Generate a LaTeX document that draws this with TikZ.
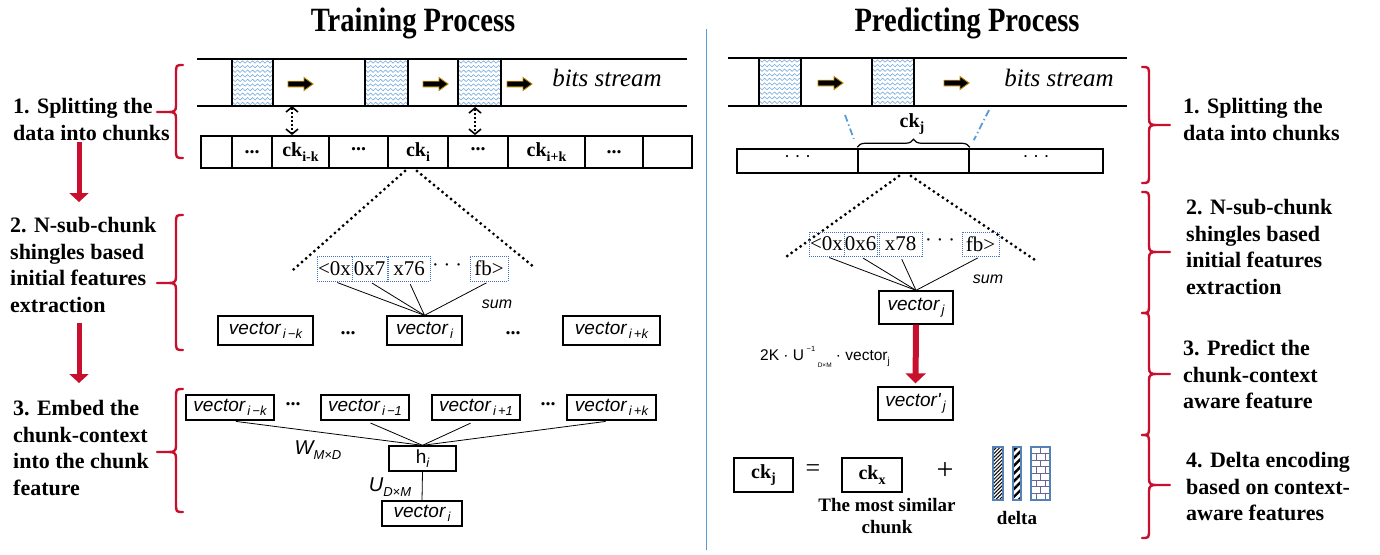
\documentclass[tikz,border=0pt]{standalone}
\usepackage{fontspec}
\setmainfont{Liberation Serif}
\newfontfamily\sansf{Liberation Sans}
\newfontfamily\titlef{Liberation Serif}[FakeStretch=0.84]
\usetikzlibrary{arrows.meta,decorations.pathmorphing,decorations.pathreplacing,calc,patterns.meta}
\definecolor{bracered}{RGB}{200,16,46}
\definecolor{divblue}{RGB}{91,155,213}
\definecolor{waveblue}{RGB}{120,172,222}
\definecolor{dotblue}{RGB}{68,114,196}
\definecolor{arrgold}{RGB}{184,134,11}
\definecolor{deltablue}{RGB}{84,130,180}
\newcommand\lsub[1]{\raisebox{-0.45ex}{\fontsize{13}{13}\selectfont #1}}
\newcommand\lsubB[1]{\raisebox{-0.5ex}{\fontsize{14}{14}\selectfont\bfseries #1}}
\newcommand\BraceL[6]{\draw[redbrace] (#1,#3) .. controls (#2,#3) .. (#2,#3+9) -- (#2,#5-6) .. controls (#2,#5-1) and (#2-2,#5) .. (#2-7,#5) -- (#6,#5) -- (#2-7,#5) .. controls (#2-2,#5) and (#2,#5+1) .. (#2,#5+6) -- (#2,#4-9) .. controls (#2,#4) .. (#1,#4);}
\newcommand\BraceR[6]{\draw[redbrace] (#1,#3) .. controls (#2,#3) .. (#2,#3+9) -- (#2,#5-6) .. controls (#2,#5-1) and (#2+2,#5) .. (#2+7,#5) -- (#6,#5) -- (#2+7,#5) .. controls (#2+2,#5) and (#2,#5+1) .. (#2,#5+6) -- (#2,#4-9) .. controls (#2,#4) .. (#1,#4);}
\newcommand\WaveBox[4]{%
\begin{scope}
\clip (#1,#2) rectangle (#3,#4);
\foreach \k in {0,...,9} \draw[wavy] (#1-6,#2+3+4.6*\k) -- (#3+6,#2+3+4.6*\k);
\end{scope}
\draw[line width=1.6pt] (#1,#2) rectangle (#3,#4);}
\newcommand\GoldArrow[2]{\filldraw[fill=black,draw=arrgold,line width=0.9pt,line join=miter] (#1,#2-2.8) -- (#1+16,#2-2.8) -- (#1+16,#2-6.5) -- (#1+25,#2) -- (#1+16,#2+6.5) -- (#1+16,#2+2.8) -- (#1,#2+2.8) -- cycle;}
\tikzset{
 redbrace/.style={draw=bracered, line width=2.4pt, line join=round, line cap=round},
 redarrow/.style={draw=bracered, line width=5pt, -{Triangle[width=19pt,length=9pt]}},
 streamline/.style={line width=2.2pt},
 wavy/.style={draw=waveblue, line width=0.6pt, decorate, decoration={snake, segment length=5pt, amplitude=1.2pt}},
 cellL/.style={draw, line width=1.8pt, minimum height=32pt, inner sep=0pt, font=\bfseries\fontsize{20}{20}\selectfont},
 cellR/.style={draw, line width=1.5pt, minimum height=24pt, inner sep=0pt, font=\fontsize{18}{18}\selectfont},
 dotarrow/.style={line width=1.6pt, dash pattern=on 2pt off 2pt, {Straight Barb[length=5pt,width=12pt]}-{Straight Barb[length=5pt,width=12pt]}},
 dotline/.style={line width=3.2pt, dash pattern=on 0pt off 5.5pt, line cap=round},
 subbox/.style={draw=dotblue, line width=1pt, dash pattern=on 1pt off 1pt, minimum height=25pt, inner sep=0.5pt, font=\fontsize{21}{21}\selectfont},
 vbox/.style={draw, line width=1.3pt, minimum height=29pt, inner sep=1pt, font=\sansf\itshape\fontsize{19}{19}\selectfont},
 thinline/.style={line width=0.8pt},
 dotstext/.style={font=\bfseries\fontsize{20}{20}\selectfont},
 lab/.style={font=\bfseries\fontsize{22}{26.6}\selectfont, align=left, inner sep=0pt, anchor=north west},
 sumtext/.style={font=\sansf\itshape\fontsize{16}{16}\selectfont},
 bstream/.style={font=\itshape\fontsize{25}{25}\selectfont},
 ttl/.style={font=\titlef\bfseries\fontsize{34}{34}\selectfont, anchor=base},
 ckbox/.style={draw, line width=2.5pt, minimum width=59pt, minimum height=34pt, inner sep=0pt, font=\bfseries\fontsize{20}{20}\selectfont},
 dashdotblue/.style={draw=divblue, line width=1.8pt, dash pattern=on 7pt off 3pt on 1.5pt off 3pt},
}
\begin{document}
\begin{tikzpicture}[x=1pt,y=-1pt]
\useasboundingbox (0,0) rectangle (1380,554);
% titles and divider
\node[ttl] (t1) at (413,31) {Training Process};
\node[ttl] (t2) at (967,31) {Predicting Process};
\draw[divblue, line width=1pt] (706,29) -- (706,550);

% ===== LEFT LABELS =====
\node[lab] (L1) at (13,98) {1. Splitting the\\data into chunks};
\node[lab] (L2) at (10,217) {2. N-sub-chunk\\shingles based\\initial features\\extraction};
\node[lab] (L3) at (13,400) {3. Embed the\\chunk-context\\into the chunk\\feature};
\coordinate (ra1s) at (79,142); \coordinate (ra1e) at (79,202);
\coordinate (ra2s) at (79,323); \coordinate (ra2e) at (79,383);
\draw[redarrow] (ra1s) -- (ra1e);
\draw[redarrow] (ra2s) -- (ra2e);
\BraceL{183}{176}{65}{158}{112}{157}
\BraceL{183}{176}{215}{350}{283}{157}
\BraceL{183}{176}{389}{512}{452}{157}

% ===== LEFT STREAM =====
\WaveBox{232}{59}{273}{106}
\WaveBox{365}{59}{408}{106}
\WaveBox{458}{59}{501}{106}
\draw[streamline] (197,59) -- (687,59);
\draw[streamline] (197,106) -- (687,106);
\GoldArrow{288}{84}
\GoldArrow{423}{84}
\GoldArrow{507}{84}
\node[bstream] (bs1) at (607,78) {bits stream};

\node[cellL, minimum width=31pt] (c1) at (216.5,152) {};
\node[cellL, minimum width=40pt] (c2) at (252,152) {...};
\node[cellL, minimum width=57pt] (c3) at (300.5,152) {ck\lsubB{i-k}};
\node[cellL, minimum width=59pt] (c4) at (358.5,152) {\raisebox{5pt}{...}};
\node[cellL, minimum width=60pt] (c5) at (418,152) {ck\lsubB{i}};
\node[cellL, minimum width=60pt] (c6) at (478,152) {\raisebox{5pt}{...}};
\node[cellL, minimum width=77pt] (c7) at (546.5,152) {ck\lsubB{i+k}};
\node[cellL, minimum width=58pt] (c8) at (614,152) {...};
\node[cellL, minimum width=49pt] (c9) at (667.5,152) {};

\coordinate (s1) at (292,106);
\coordinate (s2) at (475,107);
\draw[dotarrow] (s1) -- (s1 |- c3.north);
\draw[dotarrow] (s2) -- (s2 |- c6.north);

\coordinate (tl1) at (405,171); \coordinate (tl2) at (293,270);
\coordinate (tr1) at (417,171); \coordinate (tr2) at (535,268);
\draw[dotline] (tl1) -- (tl2);
\draw[dotline] (tr1) -- (tr2);

\node[subbox, minimum width=35pt] (a1) at (334.5,268.5) {<0x};
\node[subbox, minimum width=35pt] (a2) at (369.5,268.5) {0x7};
\node[subbox, minimum width=42pt] (a3) at (409,268.5) {x76};
\node[font=\fontsize{20}{20}\selectfont] (a4) at (447,268) {· · ·};
\node[subbox, minimum width=38pt] (a5) at (489,268.5) {fb>};

\node[vbox, minimum width=95pt] (vk1) at (265.5,330.5) {vector\lsub{\,i\,−k}};
\node[vbox, minimum width=75pt] (vi) at (424.5,330.5) {vector\lsub{\,i}};
\node[vbox, minimum width=97pt] (vk2) at (611.5,330.5) {vector\lsub{\,i\,+k}};
\node[dotstext] (d1) at (348,333) {...};
\node[dotstext] (d2) at (513,333) {...};
\foreach \s in {a1,a2,a3,a5} \draw[thinline, shorten <=3pt] (\s.south) -- (vi.north);
\node[sumtext] (sum1) at (497,304) {sum};

% ===== LEFT EMBED =====
\node[vbox, minimum width=88pt, minimum height=25pt] (b1) at (230,407.5) {vector\lsub{\,i\,−k}};
\node[vbox, minimum width=88pt, minimum height=25pt] (b2) at (365,407.5) {vector\lsub{\,i\,−1}};
\node[vbox, minimum width=88pt, minimum height=25pt] (b3) at (476,407.5) {vector\lsub{\,i\,+1}};
\node[vbox, minimum width=89pt, minimum height=25pt] (b4) at (611.5,407.5) {vector\lsub{\,i\,+k}};
\node[dotstext] (e1) at (293,404) {...};
\node[dotstext] (e2) at (548,404) {...};
\node[vbox, minimum width=67pt, minimum height=25pt, font=\sansf\fontsize{19}{19}\selectfont] (h) at (422.5,458.5) {h\lsub{\itshape i}};
\node[vbox, minimum width=80pt, minimum height=25pt] (vo) at (422,513.5) {vector\lsub{\,i}};
\foreach \s in {b1,b2,b3,b4} \draw[thinline, shorten <=6pt] (\s.south) -- (h.north);
\draw[thinline] (h.south) -- (vo.north);
\node[font=\sansf\itshape\fontsize{20}{20}\selectfont] (wl) at (318,450) {W\lsub{M×D}};
\node[font=\sansf\itshape\fontsize{20}{20}\selectfont] (ul) at (390,487) {U\lsub{D×M}};

% ===== RIGHT STREAM =====
\WaveBox{759}{58}{801}{106}
\WaveBox{872}{58}{914}{106}
\draw[streamline] (728,58) -- (1127,58);
\draw[streamline] (728,106) -- (1127,106);
\GoldArrow{818}{83}
\GoldArrow{944}{83}
\node[bstream] (bs2) at (1059,78) {bits stream};

\node[cellR, minimum width=121pt] (r1) at (797.5,161) {\raisebox{4pt}{· · ·}};
\node[cellR, minimum width=111pt] (r2) at (913.5,161) {};
\node[cellR, minimum width=134pt] (r3) at (1036,161) {\raisebox{4pt}{· · ·}};
\draw[line width=1.2pt, decorate, decoration={brace, amplitude=8pt}] ($(r2.north west)+(0,-1)$) -- ($(r2.north east)+(0,-1)$);
\node[font=\bfseries\fontsize{20}{20}\selectfont] (ckj) at (912,124) {ck\lsubB{j}};
\coordinate (bl1) at (845,115);
\coordinate (bl2) at (989,110);
\draw[dashdotblue, shorten >=10pt] (bl1) -- (r2.north west);
\draw[dashdotblue, shorten >=9pt] (bl2) -- (r2.north east);

\coordinate (ul1) at (899,176); \coordinate (ul2) at (783,259);
\coordinate (ur1) at (911,176); \coordinate (ur2) at (1038,262);
\draw[dotline] (ul1) -- (ul2);
\draw[dotline] (ur1) -- (ur2);

\node[subbox, minimum width=35pt, minimum height=24pt] (p1) at (826.5,244) {<0x};
\node[subbox, minimum width=33pt, minimum height=24pt] (p2) at (860.5,244) {0x6};
\node[subbox, minimum width=43pt, minimum height=24pt] (p3) at (900.5,244) {x78};
\node[font=\fontsize{20}{20}\selectfont] (p4) at (940,243) {· · ·};
\node[subbox, minimum width=37pt, minimum height=24pt] (p5) at (980.5,244) {fb>};

\node[vbox, minimum width=74pt, minimum height=33pt] (vj) at (916,307.5) {vector\lsub{\,j}};
\foreach \s in {p1,p2,p3,p5} \draw[thinline, shorten <=3pt] (\s.south) -- (vj.north);
\node[sumtext] (sum2) at (988,279) {sum};
\node[vbox, minimum width=75pt, minimum height=33pt] (vpj) at (915.5,403.5) {vector'\lsub{\,j}};
\draw[draw=bracered, line width=6pt, -{Triangle[width=20pt,length=10pt]}, shorten >=3pt] (vj.south) -- (vpj.north);
\node[font=\sansf\fontsize{15.5}{15.5}\selectfont] (fm) at (825,357) {2K · U\,\raisebox{1.1ex}{\fontsize{7.5}{7.5}\selectfont −1}\,\raisebox{-0.9ex}{\fontsize{6.5}{6.5}\selectfont D×M} · vector\raisebox{-0.5ex}{\fontsize{10}{10}\selectfont j}};

% ===== RIGHT DELTA =====
\node[ckbox] (ckjb) at (763.5,475) {ck\lsubB{j}};
\node[font=\fontsize{26}{26}\selectfont] (eq) at (813,471) {=};
\node[ckbox, minimum width=60pt] (ckx) at (872,475) {ck\lsubB{x}};
\node[font=\fontsize{30}{30}\selectfont] (pl) at (945,471) {+};
\node[font=\bfseries\fontsize{19}{22.5}\selectfont, align=center] (cap) at (887,516) {The most similar\\chunk};
\fill[pattern={Lines[angle=45,distance=2.6pt,line width=1pt]}] (993,447) rectangle (1003,500);
\draw[deltablue, line width=1.5pt] (993,447) rectangle (1003,500);
\fill[pattern={Lines[angle=45,distance=5.5pt,line width=2.4pt]}] (1013,447) rectangle (1021,500);
\draw[deltablue, line width=1.5pt] (1013,447) rectangle (1021,500);
\foreach \k in {1,...,7} \draw[gray!80!blue, line width=0.8pt] (1031,447+6.625*\k) -- (1050,447+6.625*\k);
\foreach \k in {0,2,4,6} \draw[gray!80!blue, line width=0.8pt] (1040.5,447+6.625*\k) -- (1040.5,447+6.625*\k+6.625);
\foreach \k in {1,3,5,7} {\draw[gray!80!blue, line width=0.8pt] (1036,447+6.625*\k) -- (1036,447+6.625*\k+6.625); \draw[gray!80!blue, line width=0.8pt] (1045,447+6.625*\k) -- (1045,447+6.625*\k+6.625);}
\draw[deltablue, line width=1.5pt] (1031,447) rectangle (1050,500);
\node[font=\bfseries\fontsize{19}{19}\selectfont] (dl) at (1017,518) {delta};

% ===== RIGHT LABELS =====
\node[lab] (R1) at (1183,98) {1. Splitting the\\data into chunks};
\node[lab] (R2) at (1186,199) {2. N-sub-chunk\\shingles based\\initial features\\extraction};
\node[lab] (R3) at (1183,340) {3. Predict the\\chunk-context\\aware feature};
\node[lab] (R4) at (1186,452) {4. Delta encoding\\based on context-\\aware features};
\BraceR{1142}{1149}{67}{183}{125}{1170}
\BraceR{1142}{1149}{192}{313}{252}{1170}
\BraceR{1142}{1149}{313}{435}{374}{1170}
\BraceR{1142}{1149}{435}{538}{485}{1170}
\end{tikzpicture}
\end{document}
